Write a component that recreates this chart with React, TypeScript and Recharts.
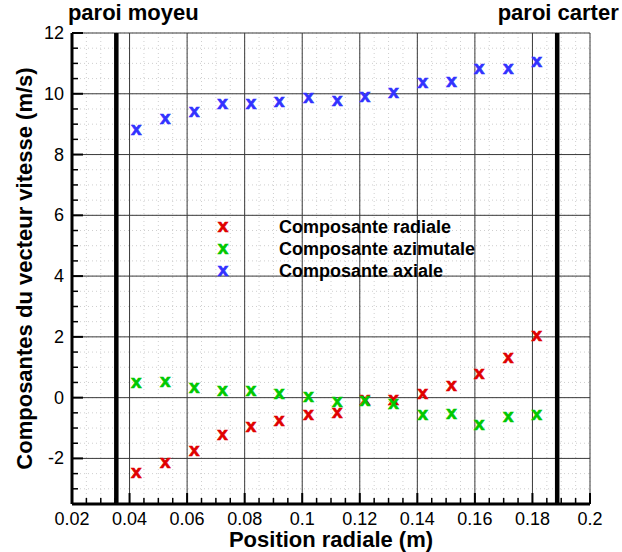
import { ScatterChart, Scatter, XAxis, YAxis, CartesianGrid, ReferenceLine, Label, Legend } from 'recharts';

// positions radiales des points de mesure (m)
const positions = [0.0423, 0.0524, 0.0625, 0.0723, 0.0822, 0.092, 0.1022, 0.1122, 0.1218, 0.1317, 0.1419, 0.1519, 0.1615, 0.1716, 0.1815];
const radiale = [-2.47, -2.14, -1.74, -1.22, -0.97, -0.77, -0.58, -0.49, -0.09, -0.09, 0.13, 0.39, 0.79, 1.31, 2.03];
const azimutale = [0.48, 0.51, 0.32, 0.21, 0.22, 0.12, 0.02, -0.14, -0.12, -0.2, -0.58, -0.55, -0.91, -0.63, -0.58];
const axiale = [8.81, 9.18, 9.39, 9.67, 9.67, 9.72, 9.87, 9.76, 9.91, 10.02, 10.36, 10.39, 10.8, 10.8, 11.04];

const xMajor = [0.02, 0.04, 0.06, 0.08, 0.1, 0.12, 0.14, 0.16, 0.18, 0.2];
const yMajor = [-2, 0, 2, 4, 6, 8, 10, 12];
const xDomain = [0.02, 0.2];
const yDomain = [-3.5, 12];

const wallPositions = [0.0354, 0.1886];
const wallLabels = ['paroi moyeu', 'paroi carter'];

// graduations secondaires : 4 intervalles par graduation principale
const xTicks = Array.from({ length: 37 }, (_, i) => (i + 4) / 200);
const yTicks = Array.from({ length: 32 }, (_, i) => (i - 7) / 2);

const FONT = '"Liberation Sans", Arial, Helvetica, sans-serif';

const series = [
  { name: 'Composante radiale', values: radiale, color: '#e00000' },
  { name: 'Composante azimutale', values: azimutale, color: '#00c800' },
  { name: 'Composante axiale', values: axiale, color: '#3232ff' },
];

const toPoints = (values: number[]) => positions.map((x, i) => ({ x, y: values[i] }));

function Cross({ cx, cy, color }: { cx: number; cy: number; color: string }) {
  return (
    <text
      x={cx}
      y={cy + 5}
      textAnchor="middle"
      fill={color}
      stroke={color}
      strokeWidth={0.7}
      fontFamily={FONT}
      fontWeight="bold"
      fontSize={19}
    >
      x
    </text>
  );
}

function YTick(props: any) {
  const { x, y, payload } = props;
  const major = yMajor.includes(payload.value);
  return (
    <g>
      <line x1={x} x2={x + (major ? 11 : 6)} y1={y} y2={y} stroke="#000" strokeWidth={major ? 2 : 1.5} />
      {major && (
        <text x={x - 8} y={y} textAnchor="end" dominantBaseline="central" fontFamily={FONT} fontSize={18} fill="#000">
          {payload.value}
        </text>
      )}
    </g>
  );
}

function XTick(props: any) {
  const { x, y, payload } = props;
  const major = xMajor.includes(payload.value);
  return (
    <g>
      <line x1={x} x2={x} y1={y} y2={y - (major ? 11 : 6)} stroke="#000" strokeWidth={major ? 2 : 1.5} />
      {major && (
        <text x={x} y={y + 21} textAnchor="middle" fontFamily={FONT} fontSize={18} fill="#000">
          {payload.value}
        </text>
      )}
    </g>
  );
}

function LegendBox() {
  return (
    <div style={{ fontFamily: FONT }}>
      {series.map((s) => (
        <div key={s.name} style={{ display: 'flex', alignItems: 'center', height: 22 }}>
          <svg width={26} height={22}>
            <Cross cx={13} cy={11} color={s.color} />
          </svg>
          <span style={{ marginLeft: 43, fontSize: 18, fontWeight: 'bold', color: '#000', whiteSpace: 'nowrap' }}>{s.name}</span>
        </div>
      ))}
    </div>
  );
}

export default function App() {
  return (
    <div style={{ position: 'absolute', left: 0, top: 0, width: 622, height: 552, background: '#fff' }}>
      <ScatterChart width={622} height={552} margin={{ top: 33, right: 32, bottom: 18, left: 12 }}>
        <CartesianGrid stroke="#cfcfcf" strokeDasharray="1 3" />
        <XAxis
          type="number"
          dataKey="x"
          domain={xDomain}
          ticks={xTicks}
          interval={0}
          height={30}
          tickSize={0}
          tickMargin={0}
          tick={(p: any) => <XTick {...p} />}
          axisLine={{ stroke: '#000', strokeWidth: 3 }}
          allowDataOverflow
          label={{
            content: ({ viewBox }: any) => (
              <text x={viewBox.x + viewBox.width / 2} y={viewBox.y + 43} textAnchor="middle" fontFamily={FONT} fontWeight="bold" fontSize={22} fill="#000">
                Position radiale (m)
              </text>
            ),
          }}
        />
        <YAxis
          type="number"
          dataKey="y"
          domain={yDomain}
          ticks={yTicks}
          interval={0}
          width={60}
          tickSize={0}
          tickMargin={0}
          tick={(p: any) => <YTick {...p} />}
          axisLine={{ stroke: '#000', strokeWidth: 3 }}
          allowDataOverflow
          label={{
            content: ({ viewBox }: any) => {
              const cx = viewBox.x + 12;
              const cy = viewBox.y + viewBox.height / 2;
              return (
                <text x={cx} y={cy} transform={`rotate(-90, ${cx}, ${cy})`} textAnchor="middle" dominantBaseline="central" fontFamily={FONT} fontWeight="bold" fontSize={22} fill="#000">
                  Composantes du vecteur vitesse (m/s)
                </text>
              );
            },
          }}
        />
        {xMajor.slice(1).map((v) => (
          <ReferenceLine key={'gx' + v} x={v} stroke="#3a3a3a" strokeWidth={1} />
        ))}
        {yMajor.map((v) => (
          <ReferenceLine key={'gy' + v} y={v} stroke="#3a3a3a" strokeWidth={1} />
        ))}
        {wallPositions.map((v, i) => (
          <ReferenceLine key={'w' + v} x={v} stroke="#000" strokeWidth={4.5}>
            <Label value={wallLabels[i]} position="top" offset={13} dx={i === 0 ? 17 : 1} fontFamily={FONT} fontWeight="bold" fontSize={22} fill="#000" />
          </ReferenceLine>
        ))}
        {series.map((s) => (
          <Scatter
            key={s.name}
            name={s.name}
            data={toPoints(s.values)}
            fill={s.color}
            isAnimationActive={false}
            shape={(p: any) => <Cross cx={p.cx} cy={p.cy} color={s.color} />}
          />
        ))}
        <Legend
          layout="vertical"
          align="center"
          verticalAlign="middle"
          wrapperStyle={{ left: 210, top: 216, width: 'auto' }}
          content={() => <LegendBox />}
        />
      </ScatterChart>
    </div>
  );
}
